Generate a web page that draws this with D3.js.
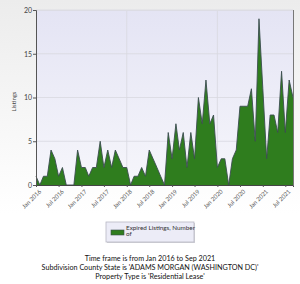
<!DOCTYPE html>
<html>
<head>
<meta charset="utf-8">
<script src="https://cdn.jsdelivr.net/npm/d3@7"></script>
<style>
  body { margin: 0; padding: 0; }
  svg { display: block; }
</style>
</head>
<body>
<div id="chart"></div>
<script>
// monthly expired listings, Jan 2016 .. Sep 2021
const startMonth = new Date(2016, 0, 1);
const listings = [
  1, 0, 1, 1, 4, 3, 1, 2, 0, 0, 0, 4,
  2, 2, 1, 2, 2, 5, 2, 4, 2, 4, 3, 2,
  2, 0, 1, 1, 2, 1, 4, 3, 2, 1, 0, 6,
  3, 7, 4, 6, 2, 6, 3, 10, 7, 12, 7, 8,
  2, 3, 3, 0, 3, 4, 9, 9, 9, 11, 5, 19,
  11, 3, 8, 8, 6, 13, 6, 12, 10
];
const yTicks = [0, 5, 10, 15, 20];
const xTickLabels = ["Jan 2016", "Jul 2016", "Jan 2017", "Jul 2017", "Jan 2018", "Jul 2018",
  "Jan 2019", "Jul 2019", "Jan 2020", "Jul 2020", "Jan 2021", "Jul 2021"];
const legendLabel = ["Expired Listings, Number", "of"];
const footerLines = [
  "Time frame is from Jan 2016 to Sep 2021",
  "Subdivision County State is 'ADAMS MORGAN (WASHINGTON DC)'",
  "Property Type is 'Residential Lease'"
];

const data = listings.map((v, i) => ({
  date: new Date(startMonth.getFullYear(), startMonth.getMonth() + i, 1),
  value: v
}));

var W = 300, H = 284;
var margin = {top: 10, right: 7, bottom: 99, left: 36},
  width = W - margin.left - margin.right,
  height = H - margin.top - margin.bottom;

var root = d3.select("#chart").append("svg")
  .attr("width", W).attr("height", H);

var defs = root.append("defs");
var bgGrad = defs.append("linearGradient").attr("id", "bgGrad")
  .attr("x1", 0).attr("y1", 0).attr("x2", 0).attr("y2", 1);
bgGrad.append("stop").attr("offset", "0%").attr("stop-color", "#ececec");
bgGrad.append("stop").attr("offset", "75%").attr("stop-color", "#ffffff");
var plotGrad = defs.append("linearGradient").attr("id", "plotGrad")
  .attr("x1", 0).attr("y1", 0).attr("x2", 0).attr("y2", 1);
plotGrad.append("stop").attr("offset", "0%").attr("stop-color", "#e4e4f4");
plotGrad.append("stop").attr("offset", "100%").attr("stop-color", "#f6f6fb");

root.append("rect").attr("width", W).attr("height", H).attr("fill", "url(#bgGrad)");

var svg = root.append("g")
  .attr("transform", "translate(" + margin.left + "," + margin.top + ")");

var x = d3.scaleTime()
  .domain(d3.extent(data, d => d.date))
  .range([0, width]);
var y = d3.scaleLinear()
  .domain([0, 20])
  .range([height, 0]);

svg.append("rect")
  .attr("width", width).attr("height", height)
  .attr("fill", "url(#plotGrad)");

// horizontal grid
svg.selectAll(".hgrid")
  .data(yTicks.filter(t => t > 0))
  .enter().append("line")
  .attr("x1", 0).attr("x2", width)
  .attr("y1", d => y(d)).attr("y2", d => y(d))
  .attr("stroke", "#d8d8e0").attr("stroke-width", 0.8);

// x tick dates
const xTickDates = xTickLabels.map(s => d3.timeParse("%b %Y")(s));

// vertical grid every other label
svg.selectAll(".vgrid")
  .data(xTickDates.filter((d, i) => i % 4 == 0 && i > 0))
  .enter().append("line")
  .attr("x1", d => x(d)).attr("x2", d => x(d))
  .attr("y1", 0).attr("y2", height)
  .attr("stroke", "#d8d8e0").attr("stroke-width", 0.8);

var area = d3.area()
  .x(d => x(d.date))
  .y0(y(0))
  .y1(d => y(d.value));
var line = d3.line()
  .x(d => x(d.date))
  .y(d => y(d.value));

svg.append("path")
  .datum(data)
  .attr("d", area)
  .attr("fill", "#2f7d1e");
svg.append("path")
  .datum(data)
  .attr("d", line)
  .attr("fill", "none")
  .attr("stroke", "#3b4d4f")
  .attr("stroke-width", 0.9)
  .attr("stroke-linejoin", "miter");

// right border
svg.append("line")
  .attr("x1", width + 0.5).attr("x2", width + 0.5)
  .attr("y1", 0).attr("y2", height)
  .attr("stroke", "#777").attr("stroke-width", 1);
svg.append("line")
  .attr("x1", 0).attr("x2", width)
  .attr("y1", 0.5).attr("y2", 0.5)
  .attr("stroke", "#dcdce4").attr("stroke-width", 1);

// y axis
var yAxis = svg.append("g")
  .call(d3.axisLeft(y).tickValues(yTicks).tickSize(3).tickPadding(1));
yAxis.select(".domain").attr("stroke", "#555");
yAxis.selectAll(".tick line").attr("stroke", "#555");
yAxis.selectAll("text")
  .attr("font-family", "Lato, 'Open Sans', sans-serif")
  .attr("font-size", "7px").attr("fill", "#444");

// x axis
var xAxis = svg.append("g")
  .attr("transform", "translate(0," + height + ")")
  .call(d3.axisBottom(x).tickValues(xTickDates).tickSize(2)
    .tickFormat((d, i) => xTickLabels[i]));
xAxis.select(".domain").attr("stroke", "#444");
xAxis.selectAll(".tick line").attr("stroke", "#555");
xAxis.selectAll("text")
  .attr("font-family", "Lato, 'Open Sans', sans-serif")
  .attr("font-size", "6px").attr("fill", "#555")
  .style("text-anchor", "end")
  .attr("dx", "-0.2em").attr("dy", "0.6em")
  .attr("transform", "rotate(-45)");

// y title
root.append("text")
  .attr("transform", "translate(16," + (margin.top + height / 2 + 4) + ") rotate(-90)")
  .attr("text-anchor", "middle")
  .attr("font-family", "Lato, 'Open Sans', sans-serif")
  .attr("font-size", "6px").attr("fill", "#444")
  .text("Listings");

// legend
var lg = root.append("g").attr("transform", "translate(106,222)");
lg.append("rect").attr("x", 1).attr("y", 1).attr("width", 88).attr("height", 20)
  .attr("fill", "#d0d0d8");
lg.append("rect").attr("width", 88).attr("height", 20)
  .attr("fill", "#ececf7").attr("stroke", "#b8b8c4").attr("stroke-width", 0.8);
lg.append("rect").attr("x", 5).attr("y", 8).attr("width", 13).attr("height", 5)
  .attr("fill", "#2f7d1e").attr("stroke", "#3b4d4f").attr("stroke-width", 0.6);
lg.selectAll(".lt").data(legendLabel).enter().append("text")
  .attr("x", 20).attr("y", (d, i) => 8 + i * 6)
  .attr("font-family", "Lato, 'Open Sans', sans-serif")
  .attr("font-size", "6.3px").attr("fill", "#333")
  .text(d => d);

// footer
root.selectAll(".foot").data(footerLines).enter().append("text")
  .attr("x", 150).attr("y", (d, i) => 260.5 + i * 9)
  .attr("text-anchor", "middle")
  .attr("font-family", "Lato, 'Open Sans', sans-serif")
  .attr("font-size", "7.2px").attr("fill", "#111")
  .text(d => d);
</script>
</body>
</html>
